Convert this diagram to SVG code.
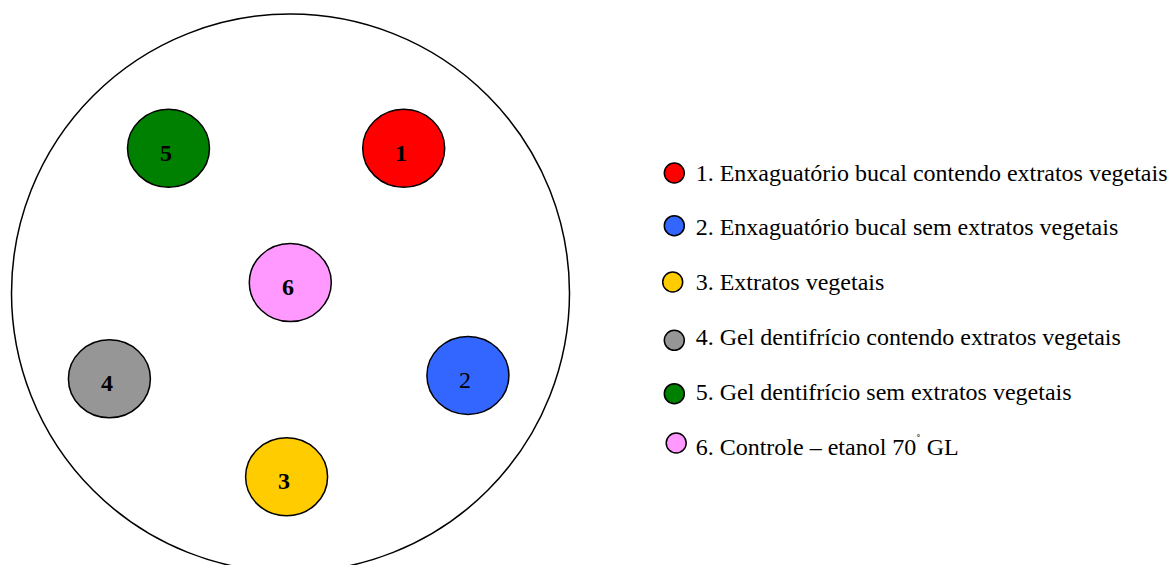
<svg xmlns="http://www.w3.org/2000/svg" width="1170" height="565" viewBox="0 0 1170 565">
<style>
.plate{fill:#fff;stroke:#000;stroke-width:1.5}
.well{stroke:#000;stroke-width:1.5}
.num{font-family:"Liberation Serif","Times New Roman",serif;font-size:24px;font-weight:bold;text-anchor:middle;fill:#000}
.numr{font-family:"Liberation Serif","Times New Roman",serif;font-size:24px;text-anchor:middle;fill:#000}
.leg{font-family:"Liberation Serif","Times New Roman",serif;font-size:24px;fill:#000}
.dot{stroke:#000;stroke-width:1.5}
</style>
<rect width="1170" height="565" fill="#fff"/>
<g id="plate"><ellipse class="plate" cx="290.5" cy="293" rx="279" ry="279"/></g>
<g id="well1"><ellipse class="well" cx="403.7" cy="148.3" rx="41" ry="39" fill="#FF0000"/><text class="num" x="401" y="161">1</text></g>
<g id="well2"><ellipse class="well" cx="467.9" cy="375.4" rx="41" ry="39" fill="#3366FF"/><text class="numr" x="465" y="388">2</text></g>
<g id="well3"><ellipse class="well" cx="286.6" cy="476.8" rx="41" ry="39" fill="#FFCC00"/><text class="num" x="284" y="489">3</text></g>
<g id="well4"><ellipse class="well" cx="109.4" cy="378.8" rx="41" ry="39" fill="#969696"/><text class="num" x="107" y="391">4</text></g>
<g id="well5"><ellipse class="well" cx="168.5" cy="148.3" rx="41" ry="39" fill="#008000"/><text class="num" x="166" y="161">5</text></g>
<g id="well6"><ellipse class="well" cx="290.3" cy="282.6" rx="41" ry="39" fill="#FF99FF"/><text class="num" x="288" y="295">6</text></g>
<g id="legend">
<g id="leg1"><circle class="dot" cx="674.3" cy="173" r="10" fill="#FF0000"/><text class="leg" x="695.7" y="181">1. Enxaguatório bucal contendo extratos vegetais</text></g>
<g id="leg2"><circle class="dot" cx="674.3" cy="225.7" r="10" fill="#3366FF"/><text class="leg" x="695.7" y="235">2. Enxaguatório bucal sem extratos vegetais</text></g>
<g id="leg3"><circle class="dot" cx="672.7" cy="282" r="10" fill="#FFCC00"/><text class="leg" x="695.7" y="290">3. Extratos vegetais</text></g>
<g id="leg4"><circle class="dot" cx="674.3" cy="340.3" r="10" fill="#969696"/><text class="leg" x="695.7" y="345">4. Gel dentifrício contendo extratos vegetais</text></g>
<g id="leg5"><circle class="dot" cx="674.3" cy="393.7" r="10" fill="#008000"/><text class="leg" x="695.7" y="400">5. Gel dentifrício sem extratos vegetais</text></g>
<g id="leg6"><circle class="dot" cx="676.2" cy="443" r="10" fill="#FF99FF"/><text class="leg" x="695.7" y="455">6. Controle – etanol 70<tspan font-size="13" dy="-12">˚</tspan><tspan dy="12"> GL</tspan></text></g>
</g>
</svg>
